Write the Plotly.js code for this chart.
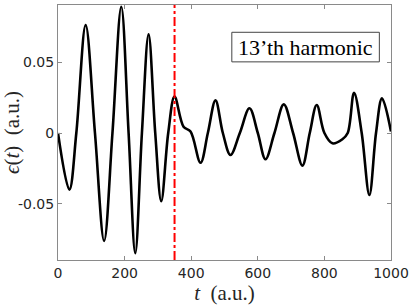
<!DOCTYPE html>
<html><head><meta charset="utf-8">
<script src="https://cdn.plot.ly/plotly-3.0.1.min.js"></script>
<style>html,body{margin:0;padding:0;background:#fff}</style>
</head><body><div id="c" style="width:415px;height:306px"></div>
<script>
// time points (a.u.): extrema, shoulders and zero crossings
const tVals = [0, 34, 55, 83, 111, 138.5, 163.5, 190, 212, 232, 252, 272, 292, 310, 331, 350, 377, 398, 428, 450, 473, 495, 518, 546, 575, 600, 623, 650, 678, 706, 734, 756, 777, 800, 824, 854, 870, 889, 912, 935, 955, 973, 1000];
const epsVals = [0, -0.040, 0, 0.076, 0, -0.076, 0, 0.089, 0, -0.0847, 0, 0.0695, 0, -0.048, 0, 0.0256, 0.0044, 0.001, -0.021, 0, 0.023, 0, -0.0155, 0, 0.0174, 0, -0.0185, 0, 0.0202, 0, -0.023, 0, 0.0197, 0, -0.0073, -0.0044, 0, 0.0284, 0, -0.0437, 0, 0.0244, 0.001];
const markerT = 350;
const xTicks = [0, 200, 400, 600, 800, 1000];
const xTickText = ['0', '200', '400', '600', '800', '1000'];
const yTicks = [-0.05, 0, 0.05];
const yTickText = ['-0.05', '0', '0.05'];
const labelText = '13\u2019th harmonic';

const axisCommon = {
  showgrid: false, zeroline: false, showline: true, mirror: 'ticks',
  linecolor: '#8a8a8a', linewidth: 1, ticks: 'inside', ticklen: 4,
  tickcolor: '#8a8a8a', tickfont: {family: 'DejaVu Sans, sans-serif', size: 14, color: '#262626'}
};
const titleFont = {family: 'Liberation Serif, serif', size: 21, color: '#262626'};

const data = [{
  x: tVals, y: epsVals, type: 'scatter', mode: 'lines',
  line: {color: '#000', width: 2.6, shape: 'spline', smoothing: 1.0},
  hoverinfo: 'skip'
}];

const layout = {
  width: 415, height: 306,
  margin: {l: 58, r: 24, t: 5, b: 46},
  paper_bgcolor: '#fff', plot_bgcolor: '#fff',
  showlegend: false,
  xaxis: Object.assign({}, axisCommon, {
    range: [0, 1000], tickvals: xTicks, ticktext: xTickText,
    title: {text: '<i>t</i>\u00a0 (a.u.)', font: titleFont, standoff: 2}
  }),
  yaxis: Object.assign({}, axisCommon, {
    range: [-0.0895, 0.0902], tickvals: yTicks, ticktext: yTickText,
    title: {text: '<i>\u03f5</i>(<i>t</i>)\u00a0 (a.u.)', font: titleFont, standoff: 4}
  }),
  shapes: [
    {type: 'line', xref: 'x', yref: 'paper', x0: markerT, x1: markerT, y0: 0, y1: 1,
     line: {color: '#ff0000', width: 2, dash: 'dashdot'}},
    {type: 'rect', xref: 'paper', yref: 'paper', x0: 0.522, x1: 0.965, y0: 0.777, y1: 0.893,
     line: {color: '#444', width: 1}, fillcolor: '#fff'}
  ],
  annotations: [{
    xref: 'paper', yref: 'paper', x: 0.743, y: 0.835, xanchor: 'center', yanchor: 'middle',
    text: labelText, showarrow: false,
    font: {family: 'Liberation Serif, serif', size: 22, color: '#000'}
  }]
};

Plotly.newPlot('c', data, layout, {displayModeBar: false, staticPlot: true});
</script>
</body></html>
